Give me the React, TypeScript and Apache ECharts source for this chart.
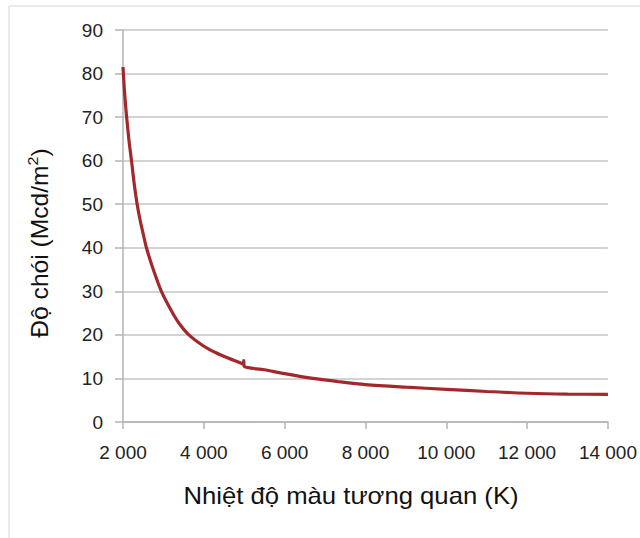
import React, { useEffect, useRef } from "react";
import * as echarts from "echarts";

const temperatureK: number[] = [
  2000, 2040, 2090, 2150, 2210, 2280, 2350, 2420, 2480, 2580, 2750, 2950, 3200,
  3400, 3630, 4000, 4300, 4600, 4900, 4975, 4988, 4998, 5500, 6000, 6700, 7300,
  8000, 9000, 10000, 11000, 12000, 13000, 14000,
];
const luminance: number[] = [
  81.5, 75.5, 70, 64.5, 60, 54.5, 50, 46.5, 44, 40, 35, 30, 25.5,
  22.5, 20, 17.4, 15.9, 14.7, 13.6, 13.3, 14.1, 12.8, 12.0, 11.1, 10.0, 9.3,
  8.6, 8.0, 7.5, 7.0, 6.6, 6.4, 6.35,
];
const xTicks = { min: 2000, max: 14000, interval: 2000 };
const yTicks = { min: 0, max: 90, interval: 10 };
const xName = "Nhiệt độ màu tương quan (K)";
const yNameMain = "Độ chói (Mcd/m";
const yNameSup = "2";
const yNameEnd = ")";

const fmtThousands = (v: number) =>
  String(v).replace(/\B(?=(\d{3})+(?!\d))/g, " ");

export default function App() {
  const ref = useRef<HTMLDivElement>(null);
  useEffect(() => {
    if (!ref.current) return;
    const chart = echarts.init(ref.current, undefined, { renderer: "svg" });
    const font = "Liberation Sans, Arial, Helvetica, sans-serif";
    chart.setOption({
      animation: false,
      backgroundColor: "#ffffff",
      grid: { left: 123, right: 29, top: 30, bottom: 116, containLabel: false },
      xAxis: {
        type: "value",
        min: xTicks.min,
        max: xTicks.max,
        interval: xTicks.interval,
        axisLine: { show: true, lineStyle: { color: "#b3b3b3", width: 1.5 } },
        axisTick: { show: true, length: 7, lineStyle: { color: "#b3b3b3", width: 1.5 } },
        splitLine: { show: false },
        axisLabel: {
          margin: 21,
          fontSize: 19,
          color: "#222222",
          fontFamily: font,
          formatter: (v: number) => fmtThousands(v),
        },
      },
      yAxis: {
        type: "value",
        min: yTicks.min,
        max: yTicks.max,
        interval: yTicks.interval,
        axisLine: { show: true, lineStyle: { color: "#b3b3b3", width: 1.5 } },
        axisTick: { show: true, length: 8, lineStyle: { color: "#b3b3b3", width: 1.5 } },
        splitLine: { show: true, lineStyle: { color: "#c4c4c4", width: 1.5 } },
        axisLabel: {
          margin: 20,
          fontSize: 19,
          color: "#222222",
          fontFamily: font,
        },
      },
      graphic: [
        {
          type: "line",
          shape: { x1: 9, y1: 6, x2: 640, y2: 6 },
          style: { stroke: "#e3e3e3", lineWidth: 1.5 },
        },
        {
          type: "line",
          shape: { x1: 9, y1: 6, x2: 9, y2: 538 },
          style: { stroke: "#e3e3e3", lineWidth: 1.5 },
        },
        {
          type: "text",
          x: 351,
          y: 496,
          scaleX: 1.07,
          style: {
            text: xName,
            fontSize: 24,
            fontFamily: font,
            fill: "#111111",
            align: "center",
            verticalAlign: "middle",
          },
        },
        {
          type: "text",
          x: 38,
          y: 243,
          rotation: Math.PI / 2,
          scaleX: 1.07,
          style: {
            text: `{m|${yNameMain}}{s|${yNameSup}}{m|${yNameEnd}}`,
            fontSize: 23,
            fontFamily: font,
            fill: "#111111",
            align: "center",
            verticalAlign: "middle",
            rich: {
              m: { fontSize: 23, fontFamily: font, fill: "#111111", lineHeight: 26, verticalAlign: "bottom" },
              s: { fontSize: 15, fontFamily: font, fill: "#111111", lineHeight: 26, verticalAlign: "top", padding: [0, 0, 0, 0] },
            },
          },
        },
      ],
      series: [
        {
          type: "line",
          data: temperatureK.map((t, i) => [t, luminance[i]]),
          smooth: 0.3,
          showSymbol: false,
          lineStyle: { color: "#a3282b", width: 3.2 },
        },
      ],
    });
    return () => chart.dispose();
  }, []);
  return (
    <div
      ref={ref}
      style={{ position: "fixed", left: 0, top: 0, width: 640, height: 538 }}
    />
  );
}
